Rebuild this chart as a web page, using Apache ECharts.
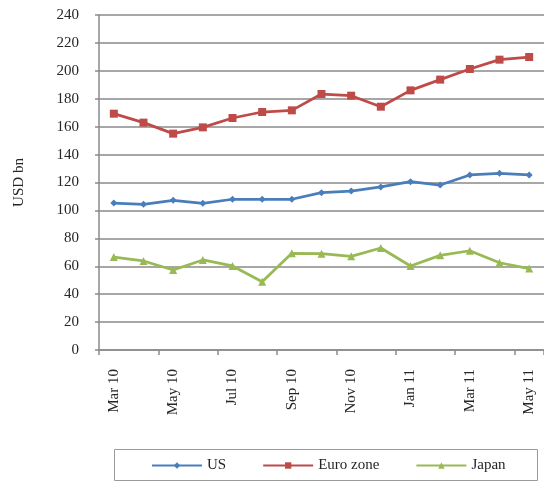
<!DOCTYPE html>
<html>
<head>
<meta charset="utf-8">
<script src="https://cdn.jsdelivr.net/npm/echarts@6/dist/echarts.min.js"></script>
<style>
  html, body { margin: 0; padding: 0; background: #fff; }
  #chart { width: 544px; height: 481px; }
</style>
</head>
<body>
<div id="chart"></div>
<script>
// Monthly categories, Mar 2010 - May 2011
const months = ['Mar 10', 'Apr 10', 'May 10', 'Jun 10', 'Jul 10', 'Aug 10', 'Sep 10', 'Oct 10',
                'Nov 10', 'Dec 10', 'Jan 11', 'Feb 11', 'Mar 11', 'Apr 11', 'May 11'];

// Values in USD bn
const usValues = [105.3, 104.4, 107.2, 105.1, 108.0, 108.0, 108.0, 112.7, 113.9, 116.8, 120.6, 118.2, 125.4, 126.6, 125.4];
const euroValues = [169.3, 162.9, 155.0, 159.5, 166.2, 170.5, 171.7, 183.4, 182.2, 174.3, 186.0, 193.7, 201.3, 208.0, 209.9];
const japanValues = [66.6, 63.8, 57.3, 64.5, 60.2, 48.9, 69.3, 69.0, 67.1, 73.1, 60.2, 67.8, 71.1, 62.5, 58.3];

const seriesNames = ['US', 'Euro zone', 'Japan'];

const FONT = '"Liberation Serif", "Times New Roman", serif';
const TEXT = '#262626';
const GRID = '#8a8a8a';

const chart = echarts.init(document.getElementById('chart'), null, { renderer: 'canvas' });

function lineSeries(name, data, color, symbol, size) {
  return {
    name: name,
    type: 'line',
    data: data,
    symbol: symbol,
    symbolSize: size,
    showAllSymbol: true,
    lineStyle: { color: color, width: 2.75 },
    itemStyle: { color: color },
    emphasis: { disabled: true },
    animation: false
  };
}

chart.setOption({
  animation: false,
  backgroundColor: '#fff',
  grid: { left: 99, top: 15, width: 448, height: 335, containLabel: false },
  graphic: [{
    type: 'rect',
    left: 112, top: 447,
    shape: { width: 423, height: 31 },
    style: { fill: 'none', stroke: '#9a9a9a', lineWidth: 1 },
    silent: true
  }],
  legend: {
    left: 151, top: 458, padding: 0,
    itemWidth: 50, itemHeight: 8, itemGap: 36,
    data: seriesNames,
    textStyle: { fontFamily: FONT, fontSize: 15, color: TEXT, padding: [0, 0, 0, 0] },
    selectedMode: false
  },
  xAxis: {
    type: 'category',
    data: months,
    boundaryGap: true,
    axisLine: { lineStyle: { color: GRID, width: 1.5 } },
    axisTick: { show: true, interval: 1, length: 5, lineStyle: { color: GRID, width: 1.5 } },
    axisLabel: {
      interval: 1, rotate: 90, margin: 19,
      fontFamily: FONT, fontSize: 15, color: TEXT
    },
    splitLine: { show: false }
  },
  yAxis: {
    type: 'value',
    min: 0, max: 240, interval: 20,
    name: 'USD bn',
    nameLocation: 'middle',
    nameGap: 72,
    nameRotate: 90,
    nameTextStyle: { fontFamily: FONT, fontSize: 15, color: TEXT },
    axisLine: { show: true, lineStyle: { color: GRID, width: 1.5 } },
    axisTick: { show: true, inside: false, length: 4, lineStyle: { color: GRID, width: 1.5 } },
    axisLabel: { margin: 20, fontFamily: FONT, fontSize: 15, color: TEXT },
    splitLine: { show: true, lineStyle: { color: GRID, width: 1.5 } }
  },
  series: [
    lineSeries(seriesNames[0], usValues, '#4a7ebb', 'diamond', 7),
    lineSeries(seriesNames[1], euroValues, '#be4b48', 'rect', 8),
    lineSeries(seriesNames[2], japanValues, '#98b954', 'triangle', 8)
  ]
});
</script>
</body>
</html>
